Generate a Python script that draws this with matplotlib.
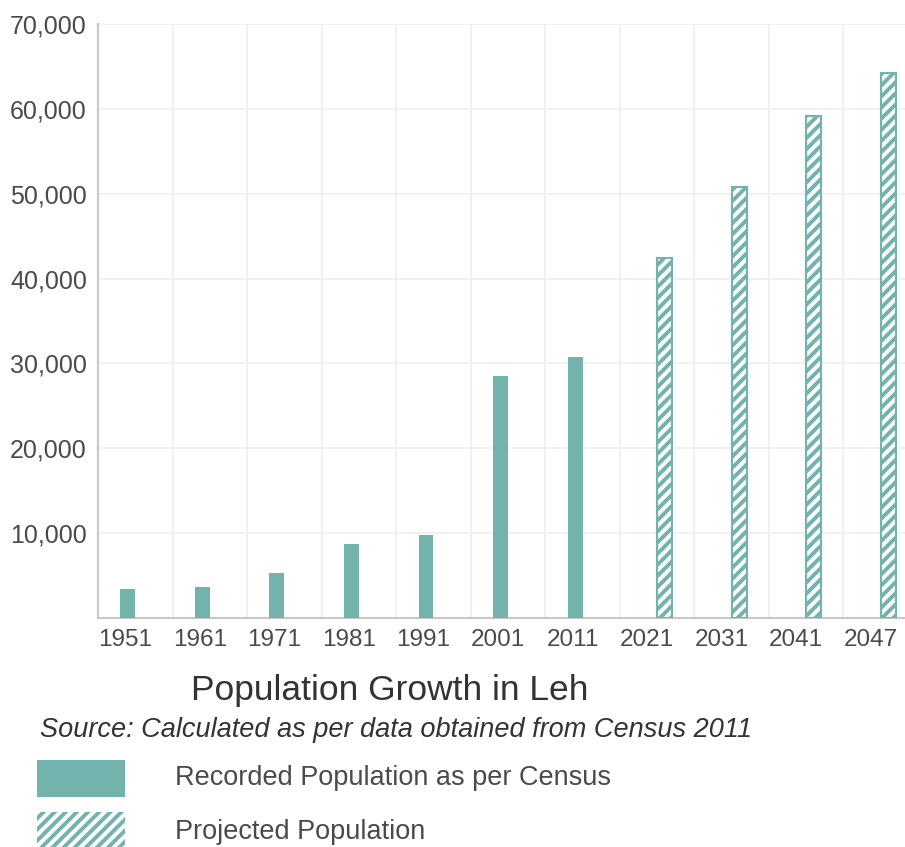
import matplotlib
matplotlib.use('Agg')
import matplotlib.pyplot as plt
from matplotlib.patches import Rectangle
from matplotlib.ticker import FuncFormatter
from matplotlib.transforms import ScaledTranslation
import numpy as np

years = ['1951', '1961', '1971', '1981', '1991', '2001', '2011',
         '2021', '2031', '2041', '2047']
recorded = [3400, 3600, 5300, 8700, 9800, 28500, 30800, 0, 0, 0, 0]
projected = [0, 0, 0, 0, 0, 0, 0, 42400, 50800, 59100, 64200]
yticks = [10000, 20000, 30000, 40000, 50000, 60000, 70000]

teal = '#72b3ad'
txt = '#4a4a4a'
plt.rcParams['font.family'] = ['Liberation Sans', 'DejaVu Sans']
plt.rcParams['hatch.linewidth'] = 2.8

fig = plt.figure(figsize=(9.05, 8.47), dpi=100)
ax = fig.add_axes([98/905, 1 - 618/847, 820/905, 594/847])

x = np.arange(len(years))
w = 0.2
rec = np.array(recorded)
proj = np.array(projected)
m1 = rec > 0
m2 = proj > 0
ax.bar(x[m1] - w/2, rec[m1], w, color=teal, zorder=3)
ax.bar(x[m2] + w/2, proj[m2], w, facecolor='white', edgecolor=teal,
       hatch='///', linewidth=1.5, zorder=3)

ax.set_xlim(-0.5, len(years) - 0.5)
ax.set_ylim(0, 70000)
ax.set_yticks(yticks)
ax.yaxis.set_major_formatter(FuncFormatter(lambda v, p: f'{int(v):,}'))
ax.set_xticks(x)
ax.set_xticklabels(years)
ax.set_xticks(np.arange(len(years) + 1) - 0.5, minor=True)
ax.tick_params(axis='both', which='both', length=0, labelsize=18,
               labelcolor=txt, pad=8)
ax.tick_params(axis='x', labelsize=17.5, pad=8)
# labels sit a little left of the category centres in the original
shift = ScaledTranslation(-10/100, 0, fig.dpi_scale_trans)
for lab in ax.get_xticklabels():
    lab.set_transform(lab.get_transform() + shift)
ax.grid(True, axis='y', color='#efefef', linewidth=1.2, zorder=0)
ax.grid(True, axis='x', which='minor', color='#efefef', linewidth=1.2, zorder=0)
for s in ['top', 'right']:
    ax.spines[s].set_visible(False)
for s in ['left', 'bottom']:
    ax.spines[s].set_color('#c8c8c8')
    ax.spines[s].set_linewidth(1.5)

fig.text(390/905, 1 - 690/847, 'Population Growth in Leh', fontsize=25.5,
         color='#333333', ha='center', va='center')
fig.text(40/905, 1 - 730/847, 'Source: Calculated as per data obtained from Census 2011',
         fontsize=19.5, style='italic', color='#333333', ha='left', va='center')

fig.add_artist(Rectangle((37/905, 1 - 797/847), 88/905, 37/847,
                         transform=fig.transFigure, facecolor=teal, edgecolor='none'))
fig.add_artist(Rectangle((37/905, 1 - 850/847), 88/905, 38/847,
                         transform=fig.transFigure, facecolor='white', edgecolor=teal,
                         hatch='///', linewidth=0))
fig.text(175/905, 1 - 778/847, 'Recorded Population as per Census', fontsize=19.5,
         color=txt, ha='left', va='center')
fig.text(175/905, 1 - 832/847, 'Projected Population', fontsize=19.5,
         color=txt, ha='left', va='center')

fig.savefig('out.png', dpi=100)
